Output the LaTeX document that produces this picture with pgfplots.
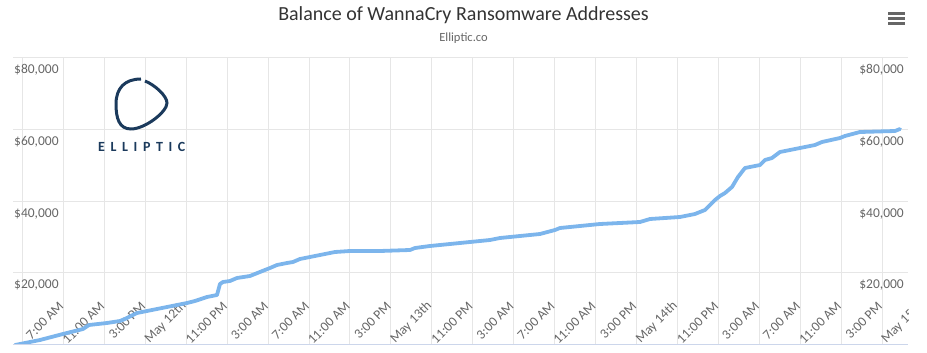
\documentclass[border=0pt]{standalone}
\usepackage{fontspec}
\setmainfont{Carlito}
\usepackage{pgfplots}
\pgfplotsset{compat=1.18}
\definecolor{linecol}{HTML}{7CB5EC}
\definecolor{gridcol}{HTML}{E6E6E6}
\definecolor{axiscol}{HTML}{CCD6EB}
\definecolor{labcol}{HTML}{666666}
\definecolor{titlecol}{HTML}{333333}
\definecolor{navy}{HTML}{1B3A5C}
\newcommand{\tickfont}{\fontsize{13.5}{13.5}\selectfont}
\begin{document}
\begin{tikzpicture}[x=1pt,y=1pt]
\useasboundingbox (0,0) rectangle (927,353);
\begin{axis}[
  at={(13pt,8pt)}, anchor=south west,
  width=895pt, height=288pt, scale only axis,
  xmin=-0.928, xmax=86.54, ymin=0, ymax=80000,
  scaled y ticks=false,
  axis line style={draw=none},
  major tick length=0pt,
  grid=major, grid style={gridcol, line width=1pt},
  tick label style={font=\tickfont, text=labcol},
  xtick={0,4,...,84},
  xticklabels={{},7:00 AM,11:00 AM,3:00 PM,May 12th,11:00 PM,3:00 AM,7:00 AM,11:00 AM,3:00 PM,May 13th,11:00 PM,3:00 AM,7:00 AM,11:00 AM,3:00 PM,May 14th,11:00 PM,3:00 AM,7:00 AM,11:00 AM,3:00 PM},
  xticklabel shift=-41pt,
  xticklabel style={inner sep=0pt, xshift=-2pt, rotate=45, anchor=east},
  ytick={20000,40000,60000,80000},
  yticklabels={{\$20,000},{\$40,000},{\$60,000},{\$80,000}},
  yticklabel style={inner sep=0pt, anchor=base west, xshift=1pt, yshift=-16pt},
  after end axis/.code={\draw[axiscol, line width=1pt] (rel axis cs:0,0) -- (rel axis cs:1,0);},
]
\addplot[linecol, line width=3.8pt, line join=round, line cap=round] coordinates {
(-0.733,0) (1.710,1389) (3.958,3056) (5.913,4444) (6.499,5556) (8.258,6111)
(9.528,6667) (10.017,7222) (11.190,8889) (12.167,9444) (14.122,10556)
(16.076,11667) (16.858,12222) (18.031,13333) (19.008,13889) (19.301,16944)
(19.594,17500) (20.278,17778) (20.962,18611) (22.233,19167) (23.210,20278)
(24.188,21389) (24.872,22222) (25.849,22778) (26.435,23056) (27.119,23889)
(28.097,24444) (29.074,25000) (30.540,25833) (32.006,26111) (34.938,26111)
(37.870,26389) (38.358,26944) (39.824,27500) (41.779,28056) (43.733,28611)
(45.688,29167) (46.665,29722) (48.620,30278) (50.574,30833) (52.040,31944)
(52.529,32500) (56.438,33611) (60.347,34167) (61.324,35000) (64.256,35556)
(65.722,36389) (66.699,37500) (67.188,38889) (67.676,40278) (68.165,41389)
(68.654,42222) (69.338,43889) (69.924,46667) (70.608,49167) (72.074,50000)
(72.563,51389) (73.247,51944) (74.029,53611) (75.983,54722) (77.449,55556)
(78.133,56389) (79.892,57500) (80.381,58056) (81.847,59167) (85.268,59444)
(85.757,60000)
};
\node[font=\tickfont, text=labcol, inner sep=0pt, rotate=45, anchor=east] at ([xshift=-2pt,yshift=41pt]axis cs:88,0) {May 15th};
\end{axis}
\begin{axis}[
  at={(13pt,8pt)}, anchor=south west,
  width=895pt, height=288pt, scale only axis,
  xmin=-0.928, xmax=86.54, ymin=0, ymax=80000,
  scaled y ticks=false,
  hide x axis, axis line style={draw=none},
  major tick length=0pt,
  tick label style={font=\tickfont, text=labcol},
  ytick={20000,40000,60000,80000},
  yticklabels={{\$20,000},{\$40,000},{\$60,000},{\$80,000}},
  yticklabel pos=right,
  yticklabel style={inner sep=0pt, anchor=base east, xshift=-4pt, yshift=-16pt},
]
\end{axis}
% title and subtitle
\node[anchor=base, font=\fontsize{20}{20}\selectfont, text=titlecol] at (463.5,332) {Balance of WannaCry Ransomware Addresses};
\node[anchor=base, font=\fontsize{12.5}{12.5}\selectfont, text=labcol] at (463.5,311) {Elliptic.co};
% menu icon
\fill[labcol] (888,338.3) rectangle (905,341.0);
\fill[labcol] (888,333.3) rectangle (905,336.0);
\fill[labcol] (888,328.3) rectangle (905,331.0);
% logo
\draw[navy, line width=3pt] (145,272) .. controls (155,268) and (167,257) .. (167,250)
  .. controls (167,241) and (145,224) .. (131,224)
  .. controls (119,224) and (116,235) .. (116,249)
  .. controls (116,265) and (125,274) .. (141,274);
\node[anchor=base west, inner sep=0pt, text=navy, font={\fontsize{14}{14}\selectfont\bfseries\addfontfeatures{LetterSpace=40}}] at (98,201) {ELLIPTIC};
\end{tikzpicture}
\end{document}
